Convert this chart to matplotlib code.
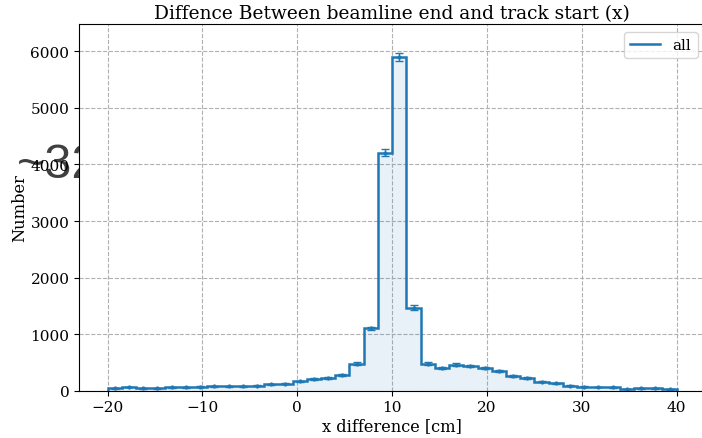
import numpy as np
import matplotlib
matplotlib.use('Agg')
import matplotlib.pyplot as plt

# counts per 1.5 cm bin
bin_edges = np.arange(-20, 40.01, 1.5)
counts = np.array([40, 65, 40, 40, 60, 60, 70, 75, 75, 75,
                   85, 110, 125, 165, 205, 230, 280, 480, 1100, 4210,
                   5900, 1470, 480, 400, 460, 440, 400, 350, 260, 220,
                   160, 130, 90, 70, 65, 60, 30, 45, 40, 25])
label = 'all'
xticks = [-20, -10, 0, 10, 20, 30, 40]

plt.rcParams['font.family'] = 'DejaVu Serif'

fig = plt.figure(figsize=(7.02, 4.39), dpi=100)
ax = fig.add_axes([0.1128, 0.1077, 0.8917, 0.835])

# stray label behind the axes (only partly visible)
fig.text(0.024, 0.5945, '~32', fontsize=35, color='#404040',
         family='Liberation Sans', zorder=-1)

color = '#1f77b4'
centers = 0.5 * (bin_edges[1:] + bin_edges[:-1])
ax.stairs(counts, bin_edges, fill=True, color=color, alpha=0.1)
ax.stairs(counts, bin_edges, color=color, lw=1.8, label=label)
ax.errorbar(centers, counts, yerr=np.sqrt(counts), fmt='.', color=color,
            ms=4, capsize=3, elinewidth=1)

ax.set_xlim(-23, 43)
ax.set_ylim(0, 6480)
ax.set_xticks(xticks)
ax.spines['right'].set_visible(False)
ax.grid(True, ls='--', color='#b0b0b0', lw=0.8)
ax.set_axisbelow(True)
ax.tick_params(labelsize=11)
ax.set_xlabel('x difference [cm]', fontsize=11.7, labelpad=2)
ax.set_ylabel('Number', fontsize=11.7, labelpad=1.5)
ax.set_title('Diffence Between beamline end and track start (x)', fontsize=13.4, pad=4.5)
ax.legend(loc='upper right', fontsize=11)

fig.savefig('out.png', dpi=100)
